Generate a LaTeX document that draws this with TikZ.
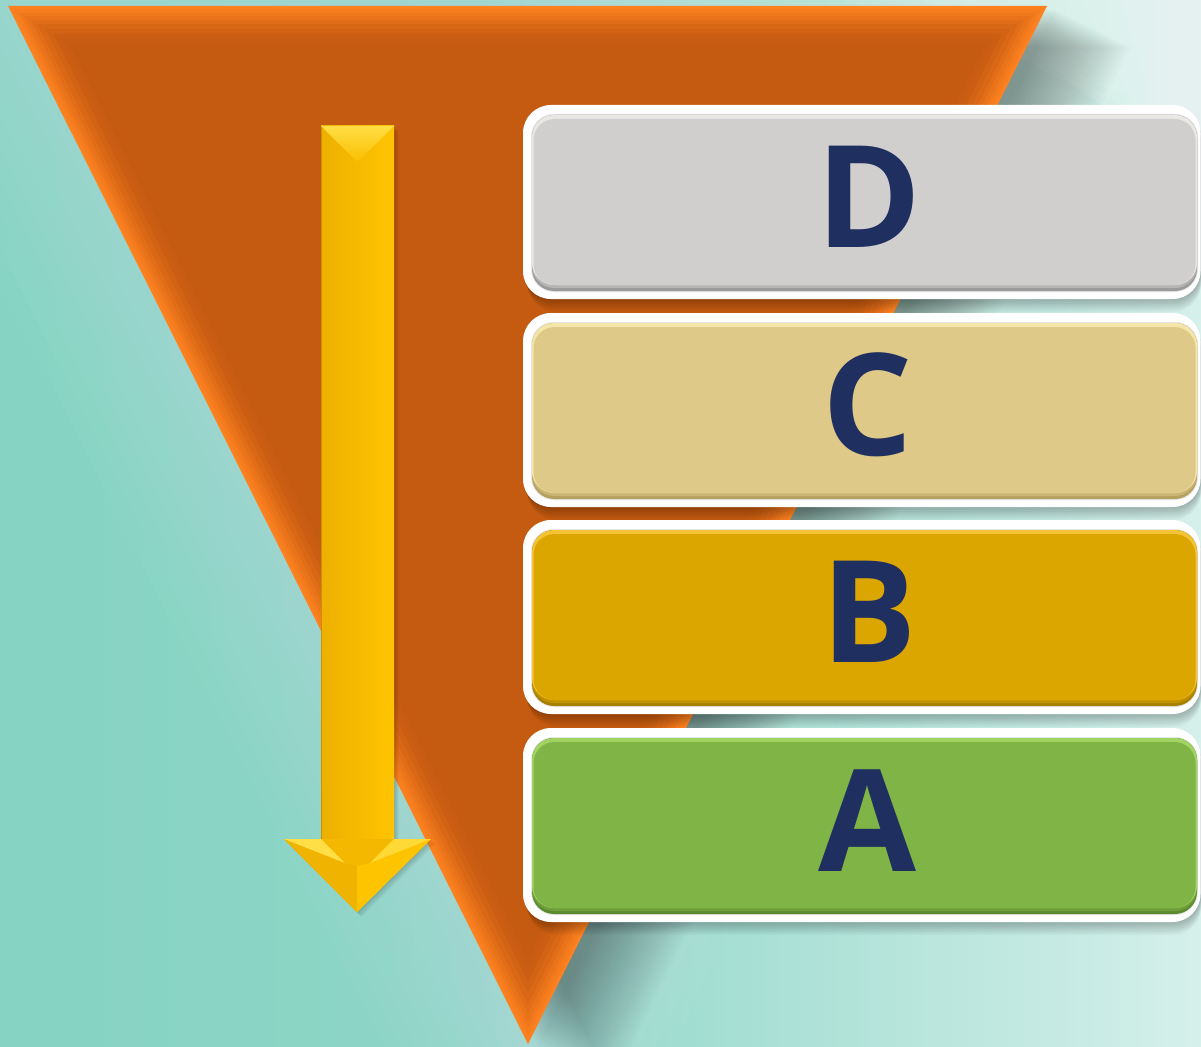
\documentclass[tikz,border=0pt]{standalone}
\usepackage{fontspec}
\newfontfamily\lettfont{Open Sans}
\usetikzlibrary{calc}
\definecolor{bgA}{HTML}{7BCEBD}
\definecolor{bgB}{HTML}{8ED6C7}
\definecolor{bgC}{HTML}{C8EBE4}
\definecolor{oMain}{HTML}{C55A11}
\definecolor{oEdge}{HTML}{FF8220}
\definecolor{arL}{HTML}{EDB000}
\definecolor{arR}{HTML}{FFC400}
\definecolor{arHi}{HTML}{FFDF45}
\definecolor{arEdge}{HTML}{C99200}
\definecolor{navy}{HTML}{1F3060}
\definecolor{dMain}{HTML}{D0CFCE}\definecolor{dLight}{HTML}{EAE8E5}\definecolor{dDark}{HTML}{9A9A9A}
\definecolor{cMain}{HTML}{DFC988}\definecolor{cLight}{HTML}{F4E6A8}\definecolor{cDark}{HTML}{B5A060}
\definecolor{bMain}{HTML}{DCA600}\definecolor{bLight}{HTML}{F4C436}\definecolor{bDark}{HTML}{A88000}
\definecolor{aMain}{HTML}{80B446}\definecolor{aLight}{HTML}{A2D464}\definecolor{aDark}{HTML}{5C8A2E}
\pgfdeclarehorizontalshading{bgshade}{100bp}{color(0bp)=(bgA); color(45bp)=(bgB); color(70bp)=(bgC); color(90bp)=(white); color(100bp)=(white)}
\tikzset{
  letter/.style={font=\lettfont\bfseries\fontsize{142}{142}\selectfont, inner sep=0pt, text=navy},
  outerbox/.style={fill=white, rounded corners=28pt},
}
\begin{document}
\begin{tikzpicture}[x=1pt,y=-1pt]
\useasboundingbox (0,0) rectangle (1201,1046);
% background
\shade[shading=bgshade] (0,0) rectangle (1201,1046);
\shade[top color=white, bottom color=white, opacity=0] (0,0) rectangle (1,1);
\foreach \k in {0,...,9}{
  \fill[white, opacity=0.07] (1201,0) -- (1201-\k*40,0) -- (1201,300-\k*20) -- cycle;
}
% triangle points
\coordinate (TA) at (8,6);
\coordinate (TB) at (1047,6);
\coordinate (TC) at (528,1044);
\coordinate (I) at (527.7,326.9);
% soft glow around triangle
\foreach \e in {10,25,...,130}{
  \fill[white, opacity=0.025] ($(I)!{1+\e/320.9}!(TA)$) -- ($(I)!{1+\e/320.9}!(TB)$) -- ($(I)!{1+\e/320.9}!(TC)$) -- cycle;
}
% triangle shadow (soft)
\foreach \s in {0,...,23}{
  \fill[black, opacity=0.016] ($(TA)+(10+\s*3.2,4+\s*1.6)$) -- ($(TB)+(10+\s*3.2,4+\s*1.6)$) -- ($(TC)+(10+\s*3.2,4+\s*1.6)$) -- cycle;
}
% triangle with bevel
\foreach \d/\c in {0/100,2/92,4/84,7/74,10/62,14/48,18/35,23/22,28/11,33/4,38/0}{
  \fill[oEdge!\c!oMain] ($(I)!{1-\d/320.9}!(TA)$) -- ($(I)!{1-\d/320.9}!(TB)$) -- ($(I)!{1-\d/320.9}!(TC)$) -- cycle;
}
% arrow shadow
\foreach \s in {1,2,3}{
\fill[black, opacity=0.06] (321+\s*1.5,126+\s*1.5) -- (394+\s*1.5,126+\s*1.5) -- (394+\s*1.5,839+\s*1.5) -- (431+\s*1.5,839+\s*1.5) -- (357+\s*1.5,912+\s*1.5) -- (284+\s*1.5,839+\s*1.5) -- (321+\s*1.5,839+\s*1.5) -- cycle;
}
% arrow
\coordinate (ArTop) at (357.5,126);
\coordinate (ArTip) at (357,912);
\shade[left color=arL, right color=arR] (321,126) rectangle (394,840);
\draw[arEdge, line width=1pt] (321.5,127) -- (321.5,839);
\shade[top color=arHi, bottom color=arR!70!arL] (321,126) -- (394,126) -- (357.5,162) -- cycle;
\fill[arL!60!arR] (284,839) -- (431,839) -- (ArTip) -- cycle;
\fill[arL!85!arR] (284,839) -- (345,863) -- (357,866) -- (ArTip) -- cycle;
\fill[arR] (431,839) -- (370,863) -- (357,866) -- (ArTip) -- cycle;
\fill[arHi] (284,839) -- (321,839) -- (345,863) -- cycle;
\fill[arHi!80!arR] (431,839) -- (394,839) -- (370,863) -- cycle;
% boxes
\foreach \T/\nm/\mc/\lc/\dc/\lx/\ly in {105/D/dMain/dLight/dDark/869/197, 313/C/cMain/cLight/cDark/868/405, 520/B/bMain/bLight/bDark/869/612, 728/A/aMain/aLight/aDark/867/821}{
  \foreach \s in {1,...,8}{
    \fill[black, opacity=0.03, rounded corners=28pt] (523+\s*0.6,\T+\s*1.2) rectangle (1201,\T+194+\s*1.6);
  }
  \fill[outerbox] (523,\T) rectangle (1200.5,\T+194);
  \fill[black!10, rounded corners=23pt] (531,\T+9) rectangle (1198,\T+187);
  \fill[\dc, rounded corners=22pt] (532,\T+10) rectangle (1197,\T+186);
  \fill[\dc!50!\mc, rounded corners=22pt] (532,\T+10) rectangle (1197,\T+183);
  \fill[\lc, rounded corners=22pt] (532,\T+10) rectangle (1197,\T+180);
  \fill[\mc, rounded corners=21pt] (533.5,\T+14) rectangle (1195.5,\T+180);
  \node[letter] (lb\nm) at (\lx,\ly) {\nm};
}
\end{tikzpicture}
\end{document}
